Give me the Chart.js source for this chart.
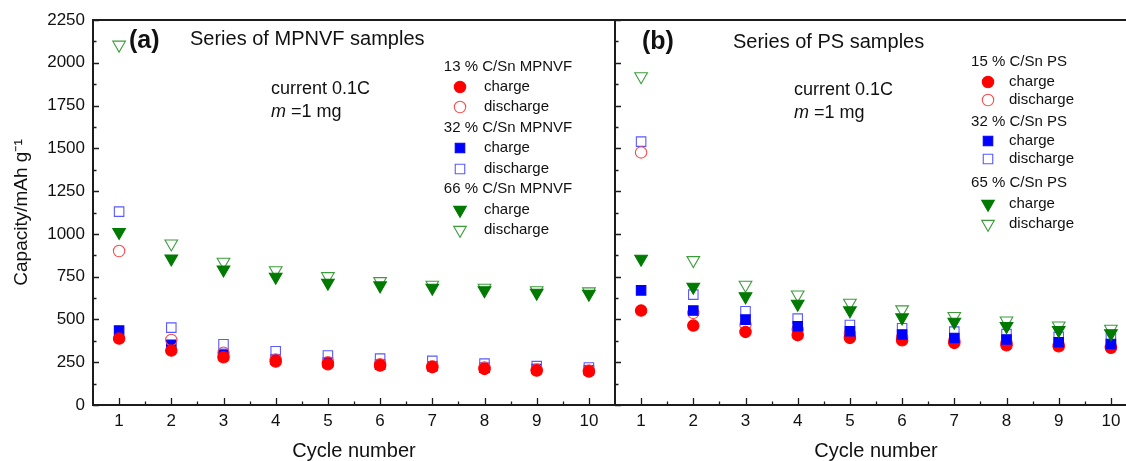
<!DOCTYPE html>
<html>
<head>
<meta charset="utf-8">
<script src="https://cdn.jsdelivr.net/npm/chart.js@4.4.0/dist/chart.umd.min.js"></script>
<style>
html, body { margin: 0; padding: 0; background: #fff; }
#wrap { position: relative; width: 1126px; height: 461px; overflow: hidden; }
canvas { position: absolute; top: 0; }
#chartA { left: 0; }
#chartB { left: 614px; }
</style>
</head>
<body>
<div id="wrap">
  <canvas id="chartA" width="616" height="461"></canvas>
  <canvas id="chartB" width="524" height="461"></canvas>
</div>
<script>
'use strict';

const cycles = [1, 2, 3, 4, 5, 6, 7, 8, 9, 10];
const yTicks = [0, 250, 500, 750, 1000, 1250, 1500, 1750, 2000, 2250];

// (a) series of MPNVF samples
const mp13Charge    = [388, 318, 279, 254, 238, 231, 221, 211, 201, 196];
const mp13Discharge = [900, 380, 306, 266, 250, 238, 227, 219, 207, 201];
const mp32Charge    = [435, 352, 295, 265, 248, 236, 226, 218, 210, 203];
const mp32Discharge = [1130, 452, 355, 314, 289, 271, 258, 242, 227, 219];
const mp66Charge    = [1010, 855, 791, 749, 714, 698, 684, 670, 655, 649];
const mp66Discharge = [2105, 943, 836, 787, 752, 723, 702, 684, 670, 663];

// (b) series of PS samples
const ps15Charge    = [552, 464, 427, 408, 392, 378, 363, 349, 343, 334];
const ps15Discharge = [1476, 538, 470, 441, 418, 396, 377, 363, 353, 343];
const ps32Charge    = [670, 552, 499, 460, 431, 412, 392, 383, 367, 357];
const ps32Discharge = [1539, 645, 548, 505, 468, 449, 429, 414, 398, 390];
const ps65Charge    = [854, 690, 634, 591, 552, 511, 486, 460, 437, 418];
const ps65Discharge = [1920, 846, 702, 645, 597, 558, 519, 493, 464, 445];

const FONT = '"Liberation Sans", Arial, Helvetica, sans-serif';
Chart.defaults.font.family = FONT;
Chart.defaults.color = '#111';

// marker looks
const redFill    = { style: 'circle',   r: 5.7, rot: 0,   fill: '#ff0000', line: '#ff0000' };
const redOpen    = { style: 'circle',   r: 5.7, rot: 0,   fill: 'rgba(0,0,0,0)', line: '#ff4a4a' };
const blueFill   = { style: 'rect',     r: 6.7, rot: 0,   fill: '#0000ff', line: '#0000ff' };
const blueOpen   = { style: 'rect',     r: 6.7, rot: 0,   fill: 'rgba(0,0,0,0)', line: '#5a5aff' };
const greenFill  = { style: 'triangle', r: 7.3, rot: 180, fill: '#007a00', line: '#007a00' };
const greenOpen  = { style: 'triangle', r: 7.3, rot: 180, fill: 'rgba(0,0,0,0)', line: '#3c9c3c' };

function makeSet(label, values, look, order) {
  return {
    label,
    data: cycles.map((c, i) => ({ x: c, y: values[i] })),
    showLine: false,
    order,
    pointStyle: look.style,
    pointRadius: look.r,
    pointHoverRadius: look.r,
    pointRotation: look.rot,
    pointBackgroundColor: look.fill,
    pointBorderColor: look.line,
    pointBorderWidth: 1.1
  };
}

function drawMarker(ctx, ds, x, y) {
  ctx.save();
  ctx.fillStyle = ds.pointBackgroundColor;
  ctx.strokeStyle = ds.pointBorderColor;
  ctx.lineWidth = ds.pointBorderWidth;
  if (Chart.helpers && Chart.helpers.drawPoint) {
    Chart.helpers.drawPoint(ctx, {
      pointStyle: ds.pointStyle, radius: ds.pointRadius,
      rotation: ds.pointRotation, borderWidth: ds.pointBorderWidth
    }, x, y);
  } else {
    ctx.beginPath();
    ctx.arc(x, y, ds.pointRadius, 0, Math.PI * 2);
    ctx.fill();
    ctx.stroke();
  }
  ctx.restore();
}

// frame + inward tick marks
const framePlugin = {
  id: 'frame',
  afterDatasetsDraw(chart, args, opts) {
    const { ctx, chartArea: a, scales: { x, y } } = chart;
    ctx.save();
    ctx.strokeStyle = '#1c1c1c';
    ctx.lineWidth = 1.3;
    ctx.beginPath();
    yTicks.forEach((v, i) => {
      const py = Math.round(y.getPixelForValue(v)) + 0.5;
      ctx.moveTo(a.left, py); ctx.lineTo(a.left + 6, py);
      if (i < yTicks.length - 1) {
        const pm = Math.round(y.getPixelForValue(v + 125)) + 0.5;
        ctx.moveTo(a.left, pm); ctx.lineTo(a.left + 3.5, pm);
      }
    });
    cycles.forEach(c => {
      const px = Math.round(x.getPixelForValue(c)) + 0.5;
      ctx.moveTo(px, a.bottom); ctx.lineTo(px, a.bottom - 7);
      const pm = Math.round(x.getPixelForValue(c + 0.5)) + 0.5;
      if (c + 0.5 < x.max) { ctx.moveTo(pm, a.bottom); ctx.lineTo(pm, a.bottom - 3.5); }
    });
    ctx.stroke();

    ctx.lineWidth = 2;
    ctx.beginPath();
    ctx.moveTo(a.left, a.top); ctx.lineTo(a.right, a.top);
    ctx.moveTo(a.left, a.top - 1); ctx.lineTo(a.left, a.bottom + 1);
    ctx.moveTo(a.left, a.bottom); ctx.lineTo(a.right, a.bottom);
    if (opts.rightBorder) { ctx.moveTo(a.right, a.top - 1); ctx.lineTo(a.right, a.bottom + 1); }
    ctx.stroke();
    ctx.restore();
  }
};

// panel labels, notes and grouped legend
const notesPlugin = {
  id: 'notes',
  afterDraw(chart, args, opts) {
    const ctx = chart.ctx;
    ctx.save();
    ctx.fillStyle = '#111';
    ctx.textBaseline = 'middle';
    (opts.texts || []).forEach(t => {
      let cx = t.x;
      t.parts.forEach(p => {
        ctx.font = p.font;
        ctx.textAlign = 'left';
        ctx.fillText(p.text, cx, t.y);
        cx += ctx.measureText(p.text).width;
      });
    });
    const lg = opts.legend;
    if (lg) {
      ctx.font = '15px ' + FONT;
      lg.rows.forEach((row, i) => {
        const ry = lg.rowY[i];
        if (row.header) {
          ctx.textAlign = 'center';
          ctx.fillText(row.header, lg.headerX, ry);
        } else {
          const ds = chart.data.datasets[row.ds];
          drawMarker(ctx, ds, lg.markerX, ry);
          ctx.textAlign = 'left';
          ctx.fillText(ds.label, lg.textX, ry);
        }
      });
    }
    ctx.restore();
  }
};

function xScale(max) {
  return {
    type: 'linear',
    min: 0.5,
    max,
    afterBuildTicks: s => { s.ticks = cycles.map(v => ({ value: v })); },
    afterFit: s => { s.height = 56; },
    grid: { display: false, drawTicks: false },
    border: { display: false },
    ticks: { padding: 6, font: { size: 17 }, color: '#111', maxRotation: 0, autoSkip: false },
    title: {
      display: true, text: 'Cycle number', color: '#111',
      font: { size: 20, lineHeight: 1 }, padding: { top: 0, bottom: 0 }
    }
  };
}

function yScale(show) {
  return {
    type: 'linear',
    min: 0,
    max: 2250,
    display: show,
    afterBuildTicks: s => { s.ticks = yTicks.map(v => ({ value: v })); },
    afterFit: s => { s.width = show ? 93 : 0; },
    grid: { display: false, drawTicks: false },
    border: { display: false },
    ticks: { padding: 8, font: { size: 17 }, color: '#111', callback: v => String(v) },
    title: {
      display: true, text: 'Capacity/mAh g\u207B\u00B9', color: '#111',
      font: { size: 19, lineHeight: 1.2 }, padding: { top: 10, bottom: 0 }
    }
  };
}

const italic = s => ({ text: s, font: 'italic 18px ' + FONT });
const plain = (s, size) => ({ text: s, font: size + 'px ' + FONT });
const bold = (s, size) => ({ text: s, font: 'bold ' + size + 'px ' + FONT });

const chartA = new Chart(document.getElementById('chartA'), {
  type: 'scatter',
  data: {
    datasets: [
      makeSet('charge', mp13Charge, redFill, 0),
      makeSet('discharge', mp13Discharge, redOpen, 1),
      makeSet('charge', mp32Charge, blueFill, 3),
      makeSet('discharge', mp32Discharge, blueOpen, 2),
      makeSet('charge', mp66Charge, greenFill, 4),
      makeSet('discharge', mp66Discharge, greenOpen, 5)
    ]
  },
  options: {
    responsive: false,
    animation: false,
    layout: { autoPadding: false, padding: { top: 20, right: 1, bottom: 0, left: 0 } },
    scales: { x: xScale(10.5), y: yScale(true) },
    plugins: {
      legend: { display: false },
      tooltip: { enabled: false },
      frame: { rightBorder: true },
      notes: {
        texts: [
          { x: 129, y: 41, parts: [bold('(a)', 25)] },
          { x: 190, y: 39, parts: [plain('Series of MPNVF samples', 20)] },
          { x: 271, y: 89, parts: [plain('current 0.1C', 18)] },
          { x: 271, y: 112, parts: [italic('m'), plain(' =1 mg', 18)] }
        ],
        legend: {
          headerX: 508, markerX: 460, textX: 484,
          rowY: [67, 87, 107, 128, 148, 169, 189, 210, 230],
          rows: [
            { header: '13 % C/Sn MPNVF' }, { ds: 0 }, { ds: 1 },
            { header: '32 % C/Sn MPNVF' }, { ds: 2 }, { ds: 3 },
            { header: '66 % C/Sn MPNVF' }, { ds: 4 }, { ds: 5 }
          ]
        }
      }
    }
  },
  plugins: [framePlugin, notesPlugin]
});

const chartB = new Chart(document.getElementById('chartB'), {
  type: 'scatter',
  data: {
    datasets: [
      makeSet('charge', ps15Charge, redFill, 2),
      makeSet('discharge', ps15Discharge, redOpen, 3),
      makeSet('charge', ps32Charge, blueFill, 1),
      makeSet('discharge', ps32Discharge, blueOpen, 4),
      makeSet('charge', ps65Charge, greenFill, 0),
      makeSet('discharge', ps65Discharge, greenOpen, 5)
    ]
  },
  options: {
    responsive: false,
    animation: false,
    layout: { autoPadding: false, padding: { top: 20, right: 1, bottom: 0, left: 1 } },
    scales: { x: xScale(10.5), y: yScale(false) },
    plugins: {
      legend: { display: false },
      tooltip: { enabled: false },
      frame: { rightBorder: false },
      notes: {
        texts: [
          { x: 28, y: 42, parts: [bold('(b)', 25)] },
          { x: 119, y: 42, parts: [plain('Series of PS samples', 20)] },
          { x: 180, y: 90, parts: [plain('current 0.1C', 18)] },
          { x: 180, y: 113, parts: [italic('m'), plain(' =1 mg', 18)] }
        ],
        legend: {
          headerX: 405, markerX: 374, textX: 395,
          rowY: [62, 82, 100, 122, 141, 159, 183, 204, 224],
          rows: [
            { header: '15 % C/Sn PS' }, { ds: 0 }, { ds: 1 },
            { header: '32 % C/Sn PS' }, { ds: 2 }, { ds: 3 },
            { header: '65 % C/Sn PS' }, { ds: 4 }, { ds: 5 }
          ]
        }
      }
    }
  },
  plugins: [framePlugin, notesPlugin]
});
</script>
</body>
</html>
